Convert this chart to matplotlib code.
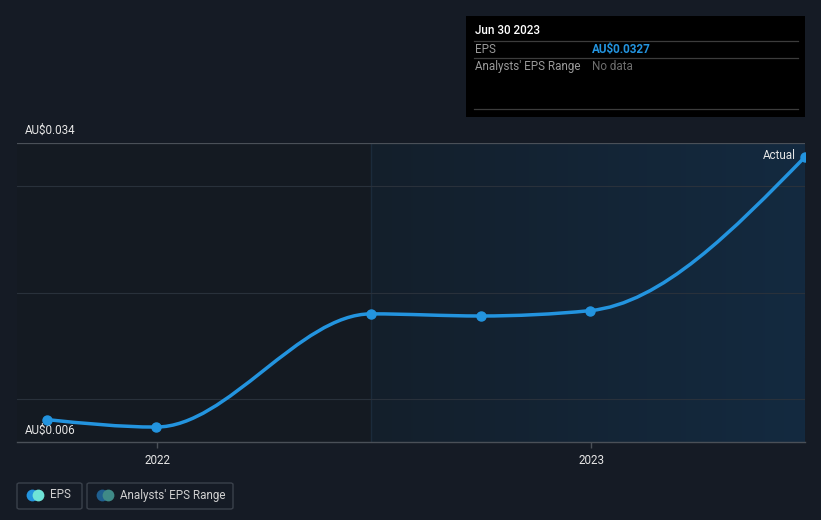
import numpy as np
import matplotlib
matplotlib.use("Agg")
import matplotlib.pyplot as plt
import matplotlib.dates as mdates
from matplotlib.path import Path
from matplotlib.patches import PathPatch, FancyBboxPatch
from matplotlib.lines import Line2D
from datetime import date

# data
eps_dates = [date(2021, 9, 30), date(2021, 12, 31), date(2022, 6, 30),
             date(2022, 9, 30), date(2022, 12, 31), date(2023, 6, 30)]
eps_values = [0.0081, 0.0074, 0.0180, 0.0178, 0.0183, 0.0327]
y_ticks = [0.01, 0.02, 0.03]
y_min, y_max = 0.006, 0.034
x_start, x_end = date(2021, 9, 5), date(2023, 6, 30)
forecast_start = date(2022, 6, 30)

BG = "#151b25"
LINE = "#2394df"
TXT = "#e6e6e6"
FS = 8.4

plt.rcParams['font.family'] = ['Roboto', 'DejaVu Sans']

fig = plt.figure(figsize=(8.21, 5.2), dpi=100)
fig.patch.set_facecolor(BG)
ax = fig.add_axes([17 / 821, 78 / 520, 788 / 821, 299 / 520])
ax.set_facecolor("#141a22")

x = mdates.date2num(eps_dates)
y = np.array(eps_values)
x0n, x1n = mdates.date2num(x_start), mdates.date2num(x_end)
fsn = mdates.date2num(forecast_start)

ax.set_xlim(x0n, x1n)
ax.set_ylim(y_min, y_max)

# shaded "past year" region with gradient
grad = np.linspace(0, 1, 256).reshape(1, -1)
c0 = np.array(matplotlib.colors.to_rgb("#141f2b"))
c1 = np.array(matplotlib.colors.to_rgb("#132a40"))
img = c0 + (c1 - c0) * grad[..., None]
ax.imshow(img, extent=[fsn, x1n, y_min, y_max], aspect="auto", zorder=0.5,
          interpolation="bilinear")
ax.axvline(fsn, color="#1b2b3b", lw=1, zorder=0.6)

for t in y_ticks:
    ax.axhline(t, color="#29313b", lw=0.8, zorder=0.7)
ax.axhline(y_max, color="#4a5058", lw=0.9, zorder=0.7)

# monotone-x cubic path through the points
h = np.diff(x)
s = np.diff(y) / h
m = np.zeros_like(y)
for i in range(1, len(y) - 1):
    p = (s[i - 1] * h[i] + s[i] * h[i - 1]) / (h[i - 1] + h[i])
    m[i] = (np.sign(s[i - 1]) + np.sign(s[i])) * min(abs(s[i - 1]), abs(s[i]), 0.5 * abs(p))
m[0] = (3 * s[0] - m[1]) / 2
m[-1] = (3 * s[-1] - m[-2]) / 2
verts = [(x[0], y[0])]
codes = [Path.MOVETO]
for i in range(len(h)):
    d = h[i] / 3
    verts += [(x[i] + d, y[i] + m[i] * d), (x[i + 1] - d, y[i + 1] - m[i + 1] * d), (x[i + 1], y[i + 1])]
    codes += [Path.CURVE4] * 3
ax.add_patch(PathPatch(Path(verts, codes), facecolor="none", edgecolor=LINE, lw=2.5, zorder=3,
                       capstyle="round"))
ax.plot(x, y, "o", color=LINE, ms=6.5, zorder=4)

ax.text(x[-1] - 8, y[-1] + 0.0001, "Actual", color=TXT, fontsize=FS, ha="right", va="center", zorder=5)

for sp in ["top", "right", "left"]:
    ax.spines[sp].set_visible(False)
ax.spines["bottom"].set_color("#4a5058")
ax.spines["bottom"].set_linewidth(1)
ax.set_yticks([])
ax.set_xticks(mdates.date2num([date(2022, 1, 1), date(2023, 1, 1)]))
ax.set_xticklabels(["2022", "2023"])
ax.tick_params(axis="x", colors="#4a5058", length=4, width=1, labelcolor=TXT, labelsize=FS, pad=5)

ax.text(8 / 788, 1.0 + 13 / 299, "AU$0.034", transform=ax.transAxes, color=TXT, fontsize=FS,
        ha="left", va="center")
ax.text(8 / 788, 12 / 299, "AU$0.006", transform=ax.transAxes, color=TXT, fontsize=FS,
        ha="left", va="center")

# tooltip box (figure pixel coords)
def fx(px):
    return px / 821

def fy(py):
    return 1 - py / 520

fig.patches.append(matplotlib.patches.Rectangle((fx(466), fy(117)), fx(805) - fx(466), fy(16) - fy(117),
                                                transform=fig.transFigure, facecolor="black",
                                                edgecolor="none", zorder=5))
for ly in [41, 58, 109]:
    fig.add_artist(Line2D([fx(474), fx(798)], [fy(ly), fy(ly)], color="#3c3c3c",
                          lw=0.9, transform=fig.transFigure, zorder=6))
fig.text(fx(475), fy(31), "Jun 30 2023", color="white", fontsize=FS, ha="left", va="center",
         zorder=7, fontweight="medium")
fig.text(fx(475), fy(49.5), "EPS", color="#9a9a9a", fontsize=FS, ha="left", va="center", zorder=7)
fig.text(fx(592), fy(49.5), "AU$0.0327", color=LINE, fontsize=FS, ha="left", va="center", zorder=7,
         fontweight="bold")
fig.text(fx(475), fy(66.5), "Analysts' EPS Range", color="#9a9a9a", fontsize=FS, ha="left",
         va="center", zorder=7)
fig.text(fx(592), fy(66.5), "No data", color="#6e6e6e", fontsize=FS, ha="left", va="center", zorder=7)

# legend
def legend_box(x0, x1, label, col_a, col_b, tx):
    fig.patches.append(FancyBboxPatch((fx(x0), fy(509)), fx(x1) - fx(x0), fy(483) - fy(509),
                                      boxstyle="round,pad=0,rounding_size=0.003",
                                      transform=fig.transFigure, facecolor="none",
                                      edgecolor="#3a414b", lw=1))
    cx = x0 + 15
    for dx, c in [(0, col_a), (6, col_b)]:
        fig.add_artist(Line2D([fx(cx + dx)], [fy(495)], marker="o", ms=8.5, color=c,
                              markeredgewidth=0, linestyle="none", transform=fig.transFigure))
    fig.text(fx(tx), fy(495), label, color="#d0d0d0", fontsize=FS, ha="left", va="center")

legend_box(17, 82, "EPS", LINE, "#6ee3d7", 50)
legend_box(87, 233, "Analysts' EPS Range", "#1f5f8f", "#3f8a87", 120)

fig.savefig("out.png", dpi=100, facecolor=BG)
